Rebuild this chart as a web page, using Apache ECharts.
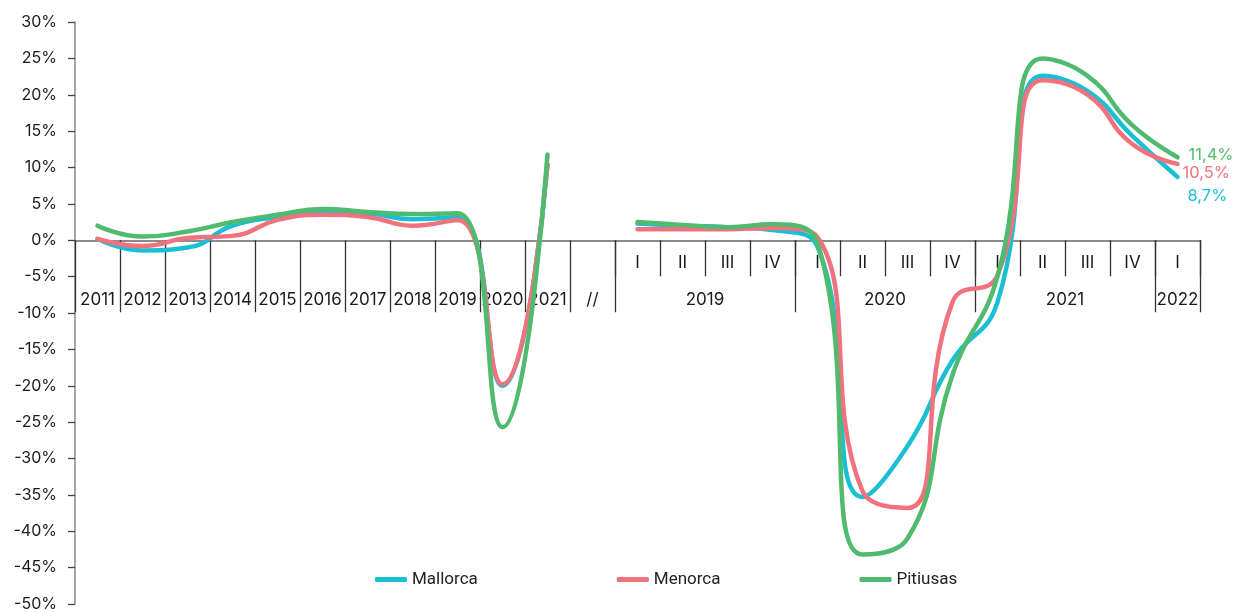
<!DOCTYPE html>
<html>
<head>
<meta charset="utf-8">
<script src="https://cdn.jsdelivr.net/npm/echarts@6/dist/echarts.min.js"></script>
<style>
  html, body { margin: 0; padding: 0; background: #fff; }
  #chart { width: 1234px; height: 612px; }
</style>
</head>
<body>
<div id="chart"></div>
<script>
// annual part, then a break, then quarters 2019-I .. 2022-I
var years = ['2011', '2012', '2013', '2014', '2015', '2016', '2017', '2018', '2019', '2020', '2021'];
var breakLabel = '//';
var quarterYears = ['2019', '2020', '2021', '2022'];
var quarterYearCounts = [4, 4, 4, 1];
var quarters = ['I', 'II', 'III', 'IV', 'I', 'II', 'III', 'IV', 'I', 'II', 'III', 'IV', 'I'];

var mallorca = [0.2, -1.4, -1.0, 2.0, 3.2, 3.9, 3.7, 2.9, 3.2, -20.0, 10.4,
    null,
    2.3, 2.0, 1.8, 1.4, -0.9, -35.3, -28.3, -16.5, -8.5, 22.6, 20.5, 14.3, 8.7];
var menorca = [0.2, -0.8, 0.3, 0.6, 2.8, 3.5, 3.2, 2.0, 2.8, -19.8, 10.4,
    null,
    1.5, 1.5, 1.5, 1.7, 0.4, -34.5, -36.8, -8.5, -4.8, 22.0, 20.0, 13.2, 10.5];
var pitiusas = [2.0, 0.5, 1.2, 2.5, 3.5, 4.3, 3.9, 3.6, 3.7, -25.7, 11.8,
    null,
    2.5, 2.1, 1.8, 2.2, -0.4, -43.2, -41.0, -18.5, -5.0, 25.0, 22.6, 15.8, 11.4];

var categories = years.concat([breakLabel]).concat(quarters.map(function (q, i) { return 'Q' + i + ' ' + q; }));

var yMin = -50, yMax = 30, yStep = 5;

// helper axes with one point on every half category, so labels and ticks
// can sit on category centres or on category boundaries
var nPts = categories.length * 2 + 1;
var quarterRow = [], yearRow = [], quarterTicks = {}, yearTicks = {};
for (var j = 0; j < nPts; j++) { quarterRow.push(''); yearRow.push(''); }
var firstQ = years.length + 1;
quarters.forEach(function (q, k) { quarterRow[2 * (firstQ + k) + 1] = q; });
for (var j = 2 * firstQ; j < nPts; j += 2) quarterTicks[j] = true;
years.forEach(function (y, i) { yearRow[2 * i + 1] = y; });
yearRow[2 * years.length + 1] = breakLabel;
for (var j = 0; j <= 2 * firstQ; j += 2) yearTicks[j] = true;
var start = firstQ;
quarterYears.forEach(function (y, k) {
    yearRow[2 * start + quarterYearCounts[k]] = y;
    start += quarterYearCounts[k];
    yearTicks[2 * start] = true;
});

var colors = ['#1bbfd4', '#f0727c', '#50bb6f'];
var font = 'Inter';

var W = 1234, H = 612;
var gLeft = 75, gRight = 34, gTop = 22, gBottom = 8;
// bottom edge of the helper grid sits on the zero line of the main grid
var zeroFromBottom = gBottom + (H - gTop - gBottom) * (0 - yMin) / (yMax - yMin);

function fmt(v) { return v.toFixed(1).replace('.', ',') + '%'; }

function lineSeries(name, data, color, offset) {
    return {
        name: name,
        type: 'line',
        xAxisIndex: 0,
        yAxisIndex: 0,
        smooth: 0.5,
        showSymbol: false,
        connectNulls: false,
        data: data,
        lineStyle: { color: color, width: 4.5, cap: 'round', join: 'round' },
        itemStyle: { color: color },
        endLabel: {
            show: true,
            color: color,
            fontFamily: font,
            fontSize: 16.5,
            offset: offset,
            formatter: function (p) { return fmt(p.value); }
        }
    };
}

function helperAxis(data, ticks, tickLen, margin) {
    return {
        type: 'category',
        gridIndex: 1,
        data: data,
        boundaryGap: false,
        position: 'bottom',
        axisLine: { show: false, onZero: false },
        axisTick: {
            show: true, length: tickLen,
            interval: function (i) { return !!ticks[i]; },
            lineStyle: { color: '#333', width: 1.3 }
        },
        axisLabel: { interval: 0, margin: margin, fontFamily: font, fontSize: 17, color: '#1a1a1a' },
        splitLine: { show: false }
    };
}

var option = {
    animation: false,
    grid: [
        { left: gLeft, right: gRight, top: gTop, bottom: gBottom, outerBoundsMode: 'none' },
        { left: gLeft, right: gRight, top: gTop, bottom: zeroFromBottom, outerBoundsMode: 'none' }
    ],
    legend: {
        data: ['Mallorca', 'Menorca', 'Pitiusas'],
        left: 370,
        top: 566,
        itemGap: 139,
        icon: 'roundRect',
        itemWidth: 32,
        itemHeight: 5,
        textStyle: { fontFamily: 'Roboto', fontSize: 17, color: '#222' }
    },
    xAxis: [
        {
            type: 'category',
            gridIndex: 0,
            data: categories,
            boundaryGap: true,
            position: 'bottom',
            axisLine: { show: true, onZero: true, lineStyle: { color: '#666', width: 1.5 } },
            axisTick: { show: false },
            axisLabel: { show: false },
            splitLine: { show: false }
        },
        helperAxis(quarterRow, quarterTicks, 36, 14),
        helperAxis(yearRow, yearTicks, 72, 51)
    ],
    yAxis: [
        {
            type: 'value',
            gridIndex: 0,
            min: yMin,
            max: yMax,
            interval: yStep,
            axisLine: { show: true, lineStyle: { color: '#888', width: 1.5 } },
            axisTick: { show: true, length: 7, lineStyle: { color: '#444', width: 1.3 } },
            splitLine: { show: false },
            axisLabel: {
                margin: 18, fontFamily: font, fontSize: 16, color: '#1a1a1a',
                formatter: function (v) { return v + '%'; }
            }
        },
        {
            type: 'value',
            gridIndex: 1,
            show: false
        }
    ],
    series: [
        lineSeries('Mallorca', mallorca, colors[0], [2, 19]),
        lineSeries('Menorca', menorca, colors[1], [-3, 9]),
        lineSeries('Pitiusas', pitiusas, colors[2], [3, -2])
    ]
};

var myChart = echarts.init(document.getElementById('chart'));
myChart.setOption(option);
</script>
</body>
</html>
